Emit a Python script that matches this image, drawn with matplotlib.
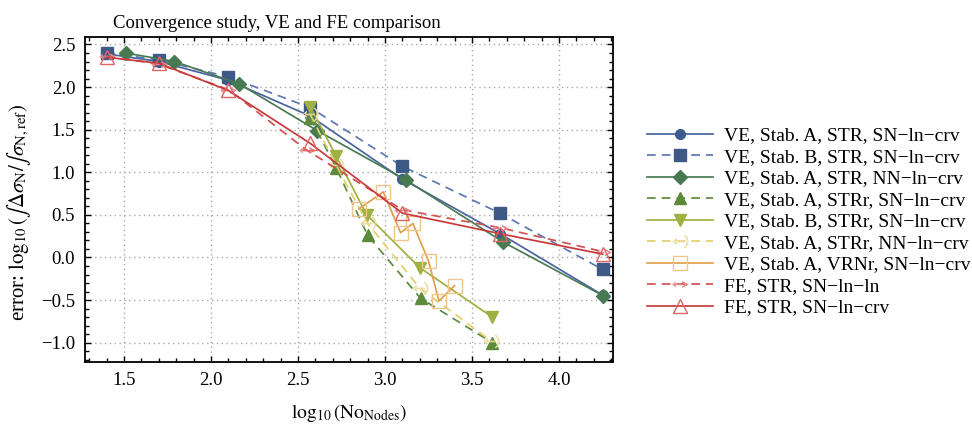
import matplotlib
matplotlib.use("Agg")
import matplotlib.pyplot as plt
from matplotlib.ticker import MultipleLocator

plt.rcParams['font.family'] = ['Liberation Serif', 'DejaVu Serif']
plt.rcParams['mathtext.fontset'] = 'stix'

# series data (log10 nodes, log10 error)
x_ve_a_str_sn = [1.40, 1.70, 2.10, 2.57, 3.10, 3.66, 4.25]
y_ve_a_str_sn = [2.39, 2.30, 2.08, 1.66, 0.92, 0.28, -0.44]

x_ve_b_str_sn = [1.40, 1.70, 2.10, 2.57, 3.10, 3.66, 4.25]
y_ve_b_str_sn = [2.40, 2.32, 2.12, 1.76, 1.07, 0.52, -0.14]

x_ve_a_str_nn = [1.51, 1.79, 2.16, 2.61, 3.12, 3.68, 4.255]
y_ve_a_str_nn = [2.40, 2.30, 2.04, 1.49, 0.91, 0.18, -0.45]

x_ve_a_strr_sn = [2.57, 2.72, 2.90, 3.205, 3.617]
y_ve_a_strr_sn = [1.64, 1.05, 0.26, -0.48, -1.00]

x_ve_b_strr_sn = [2.57, 2.72, 2.895, 3.20, 3.617]
y_ve_b_strr_sn = [1.77, 1.19, 0.50, -0.12, -0.70]

x_ve_a_strr_nn = [2.57, 2.72, 2.90, 3.20, 3.61]
y_ve_a_strr_nn = [1.68, 1.08, 0.40, -0.36, -0.98]

x_ve_a_vrnr_sn = [2.85, 2.99, 3.09, 3.16, 3.25, 3.31, 3.40]
y_ve_a_vrnr_sn = [0.57, 0.77, 0.29, 0.40, -0.04, -0.51, -0.33]

x_fe_str_lnln = [1.40, 1.70, 2.10, 2.55, 3.10, 3.66, 4.25]
y_fe_str_lnln = [2.36, 2.27, 1.97, 1.26, 0.56, 0.35, 0.07]

x_fe_str_lncrv = [1.40, 1.70, 2.10, 2.57, 3.10, 3.66, 4.25]
y_fe_str_lncrv = [2.35, 2.28, 1.96, 1.34, 0.52, 0.28, 0.04]

labels = [
    'VE, Stab. A, STR, SN\u2212ln\u2212crv',
    'VE, Stab. B, STR, SN\u2212ln\u2212crv',
    'VE, Stab. A, STR, NN\u2212ln\u2212crv',
    'VE, Stab. A, STRr, SN\u2212ln\u2212crv',
    'VE, Stab. B, STRr, SN\u2212ln\u2212crv',
    'VE, Stab. A, STRr, NN\u2212ln\u2212crv',
    'VE, Stab. A, VRNr, SN\u2212ln\u2212crv',
    'FE, STR, SN\u2212ln\u2212ln',
    'FE, STR, SN\u2212ln\u2212crv',
]

fig = plt.figure(figsize=(9.72, 4.28), dpi=100)
ax = fig.add_axes([0.0874, 0.1535, 0.5436, 0.7605])

dash = (0, (5, 3.5))
lw = 1.25

ax.plot(x_ve_a_str_sn, y_ve_a_str_sn, color='#4a64a0', lw=lw, marker='o', ms=7,
        mfc='#3e5a90', mec='#3e5a90', label=labels[0], zorder=3)
ax.plot(x_ve_b_str_sn, y_ve_b_str_sn, color='#5c78b0', lw=lw, ls=dash, marker='s', ms=9,
        mfc='#3d5a87', mec='#3d5a87', label=labels[1], zorder=3)
ax.plot(x_ve_a_str_nn, y_ve_a_str_nn, color='#4a7b55', lw=lw, marker='D', ms=7.5,
        mfc='#487a52', mec='#487a52', label=labels[2], zorder=3)
ax.plot(x_ve_a_strr_sn, y_ve_a_strr_sn, color='#5e8a3e', lw=lw, ls=dash, marker='^', ms=9,
        mfc='#5a8a3a', mec='#5a8a3a', label=labels[3], zorder=3)
ax.plot(x_ve_b_strr_sn, y_ve_b_strr_sn, color='#9fb040', lw=lw, marker='v', ms=9,
        mfc='#a0b042', mec='#a0b042', label=labels[4], zorder=3)
ax.plot(x_ve_a_strr_nn, y_ve_a_strr_nn, color='#e2cf6a', lw=lw, ls=dash,
        marker=r'$\leftarrow\!\!)$', ms=11, mfc='none', mec='#eadc9a', mew=0.6,
        label=labels[5], zorder=3)
ax.plot(x_ve_a_vrnr_sn, y_ve_a_vrnr_sn, color='#e3a04a', lw=lw, marker='s', ms=10,
        mfc='none', mec='#efc58c', mew=1.0, label=labels[6], zorder=3)
ax.plot(x_fe_str_lnln, y_fe_str_lnln, color='#d05252', lw=lw, ls=dash,
        marker=r'$\leftarrow\!\!>$', ms=11, mfc='none', mec='#e48a8a', mew=0.6,
        label=labels[7], zorder=3)
ax.plot(x_fe_str_lncrv, y_fe_str_lncrv, color='#c83a3a', lw=lw, marker='^', ms=10,
        mfc='none', mec='#e06464', mew=1.0, label=labels[8], zorder=3)

ax.set_xlim(1.276, 4.312)
ax.set_ylim(-1.23, 2.59)
ax.xaxis.set_major_locator(MultipleLocator(0.5))
ax.xaxis.set_minor_locator(MultipleLocator(0.1))
ax.yaxis.set_major_locator(MultipleLocator(0.5))
ax.yaxis.set_minor_locator(MultipleLocator(0.1))
ax.xaxis.set_major_formatter(matplotlib.ticker.FormatStrFormatter('%.1f'))
ax.yaxis.set_major_formatter(matplotlib.ticker.FuncFormatter(
    lambda v, p: ('\u2212%.1f' % -v) if v < -1e-9 else '%.1f' % abs(v)))
ax.tick_params(which='both', direction='in', top=True, right=True, labelsize=13.5,
               width=1.0, color='black')
ax.tick_params(which='major', length=4.5, pad=7)
ax.tick_params(which='minor', length=3)
for s in ax.spines.values():
    s.set_linewidth(1.3)
ax.grid(True, which='major', ls=(0, (1, 2.5)), color='#a8a8a8', lw=1.0, zorder=0)

ax.set_title('Convergence study, VE and FE comparison', fontsize=13.5, pad=6, x=0.363)
ax.set_xlabel(r'$\log_{10}(\mathrm{No}_{\mathrm{Nodes}})$', fontsize=14, labelpad=9)
ax.set_ylabel(r'error: $\log_{10}(\int\Delta\sigma_{\mathrm{N}}/\int\sigma_{\mathrm{N,ref}})$',
              fontsize=15)
ax.yaxis.set_label_coords(-0.098, 0.46)

fig.legend(loc='center left', bbox_to_anchor=(0.648, 0.482), frameon=False,
           fontsize=14, handlelength=3.4, handletextpad=0.55, labelspacing=0.2,
           numpoints=1)

fig.savefig('out.png', dpi=100)
